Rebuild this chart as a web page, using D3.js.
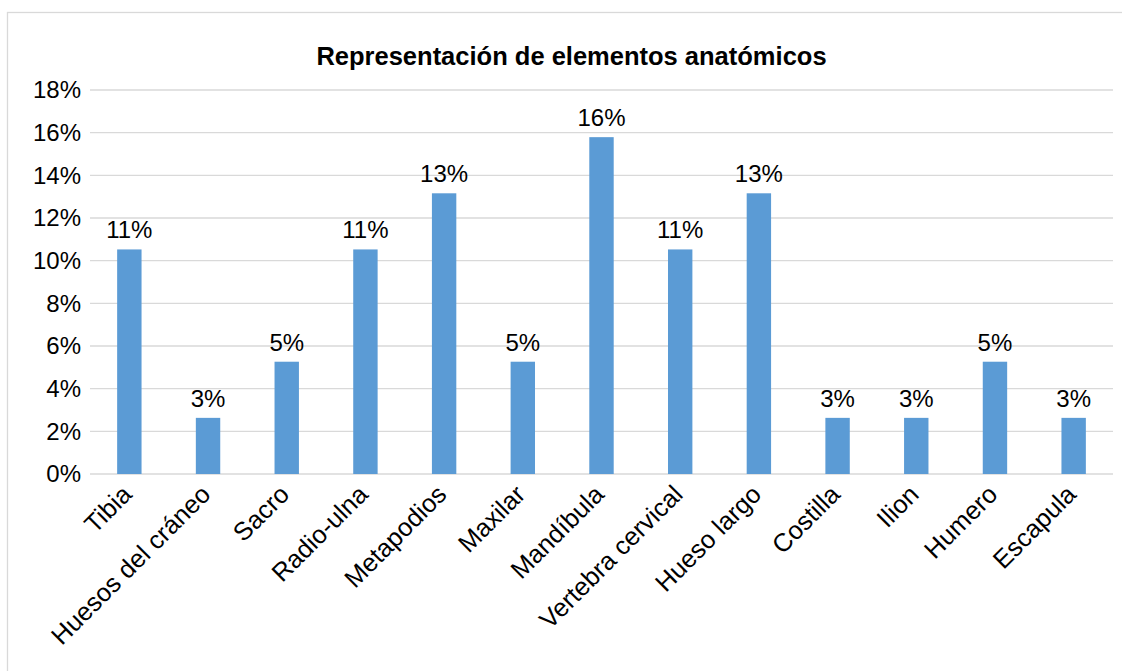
<!DOCTYPE html>
<html>
<head>
<meta charset="utf-8">
<script src="https://cdn.jsdelivr.net/npm/d3@7"></script>
<style>
  html, body { margin: 0; padding: 0; background: #fff; }
  svg { display: block; font-family: "Liberation Sans", Arial, sans-serif; }
</style>
</head>
<body>
<svg id="chart" width="1122" height="671"></svg>
<script>
// Share of anatomical elements (counts out of 38 specimens)
const categories = ["Tibia", "Huesos del cráneo", "Sacro", "Radio-ulna", "Metapodios", "Maxilar",
  "Mandíbula", "Vertebra cervical", "Hueso largo", "Costilla", "Ilion", "Humero", "Escapula"];
const shares = [4/38, 1/38, 2/38, 4/38, 5/38, 2/38, 6/38, 4/38, 5/38, 1/38, 1/38, 2/38, 1/38];
const yTicks = [0, 0.02, 0.04, 0.06, 0.08, 0.10, 0.12, 0.14, 0.16, 0.18];
const chartTitle = "Representación de elementos anatómicos";

const svg = d3.select("#chart");
const W = 1122, H = 671;
const margin = { left: 90, right: 9, top: 90, bottom: 197 };
const fontSize = 24;

// chart frame
svg.append("rect")
  .attr("x", 7.5).attr("y", 12.5)
  .attr("width", W + 20).attr("height", H + 20)
  .attr("fill", "#fff").attr("stroke", "#D9D9D9").attr("stroke-width", 1.3);

const x = d3.scaleBand()
  .domain(categories)
  .range([margin.left, W - margin.right])
  .paddingInner(0.69).paddingOuter(0.345);

const y = d3.scaleLinear()
  .domain([0, 0.18])
  .range([H - margin.bottom, margin.top]);

// gridlines
svg.append("g")
  .selectAll("line")
  .data(yTicks)
  .join("line")
  .attr("x1", margin.left).attr("x2", W - margin.right)
  .attr("y1", d => y(d)).attr("y2", d => y(d))
  .attr("stroke", "#D9D9D9").attr("stroke-width", 1.3);

// y axis labels
const yAxis = d3.axisLeft(y).tickValues(yTicks).tickFormat(d3.format(".0%")).tickSize(0).tickPadding(9);
svg.append("g")
  .attr("transform", `translate(${margin.left},0)`)
  .call(yAxis)
  .call(g => g.select(".domain").remove())
  .selectAll("text")
  .attr("font-size", fontSize).attr("fill", "#000")
  .attr("font-family", "Liberation Sans, Arial, sans-serif");

// bars
svg.append("g")
  .selectAll("rect")
  .data(categories)
  .join("rect")
  .attr("x", d => x(d))
  .attr("width", x.bandwidth())
  .attr("y", (d, i) => y(shares[i]))
  .attr("height", (d, i) => y(0) - y(shares[i]))
  .attr("fill", "#5B9BD5");

// value labels
svg.append("g")
  .selectAll("text")
  .data(categories)
  .join("text")
  .attr("x", d => x(d) + x.bandwidth() / 2)
  .attr("y", (d, i) => y(shares[i]) - 11)
  .attr("text-anchor", "middle")
  .attr("font-size", fontSize)
  .attr("fill", "#000")
  .text((d, i) => d3.format(".0%")(shares[i]));

// category labels, rotated
svg.append("g")
  .selectAll("text")
  .data(categories)
  .join("text")
  .attr("transform", d => `translate(${x(d) + x.bandwidth() / 2 + 4},${y(0) + 22}) rotate(-45)`)
  .attr("text-anchor", "end")
  .attr("font-size", 25.5)
  .attr("fill", "#000")
  .text(d => d);

// title
svg.append("text")
  .attr("x", 571.5).attr("y", 65)
  .attr("text-anchor", "middle")
  .attr("font-size", 25.5)
  .attr("font-weight", "bold")
  .attr("fill", "#000")
  .text(chartTitle);
</script>
</body>
</html>
